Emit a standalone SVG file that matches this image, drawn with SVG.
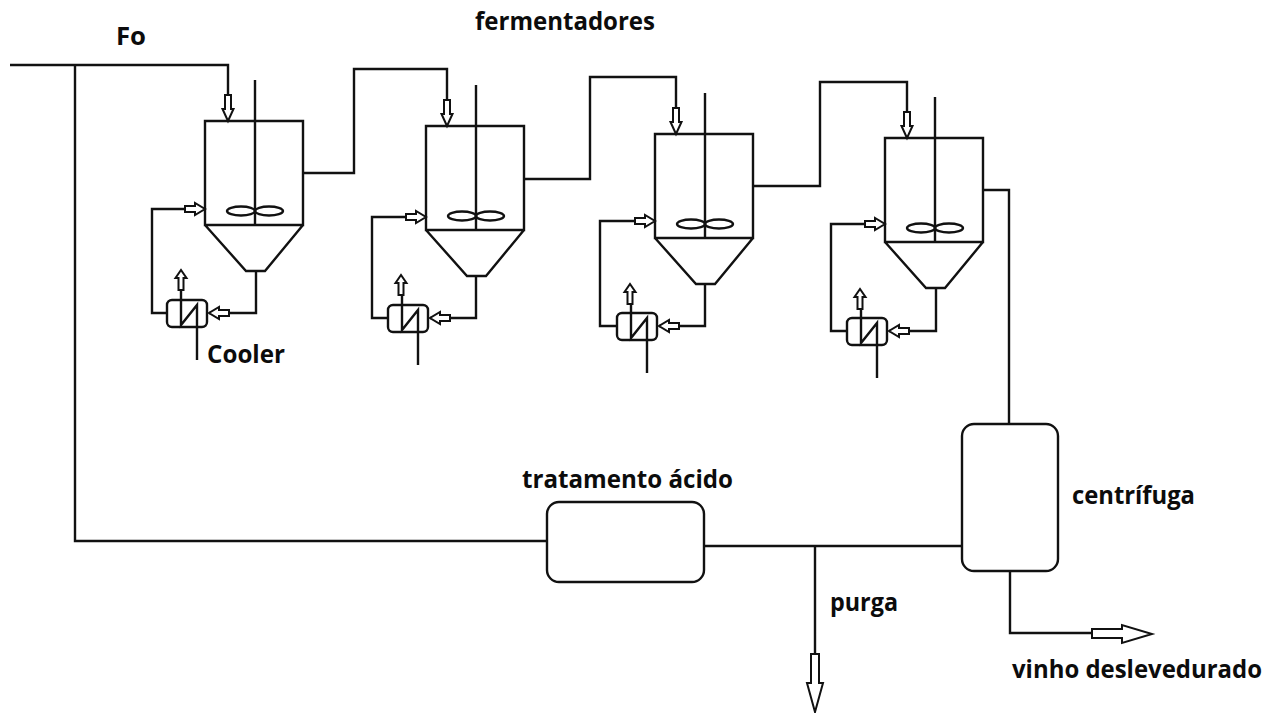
<svg xmlns="http://www.w3.org/2000/svg" width="1276" height="713" viewBox="0 0 1276 713">
<style>
.l{fill:none;stroke:#111;stroke-width:2.4;stroke-linejoin:miter}
.s{fill:#fff;stroke:#111;stroke-width:2.4}
.a{fill:#fff;stroke:#111;stroke-width:2}
.t{font-family:"Open Sans","Noto Sans",sans-serif;font-weight:700;font-size:25px;fill:#0c0c0c}
</style>
<defs>
<g id="tank">
<path class="l" d="M0 0H98V104H0ZM0 104L41 150H60L98 104M50 -41V104"/>
<ellipse class="l" cx="36" cy="90" rx="14" ry="4.500"/><ellipse class="l" cx="64" cy="90" rx="14" ry="4.500"/>
</g>
<g id="cooler">
<rect class="s" x="0" y="0" width="40" height="27" rx="5"/>
<path class="l" d="M14 -10V25L30 5V60"/>
</g>
<polygon id="ad" class="a" points="-3,-26 3,-26 3,-12 5.500,-12 0,0 -5.500,-12 -3,-12"/>
<polygon id="ar" class="a" points="-20,-3 -10,-3 -10,-6 0,0 -10,6 -10,3 -20,3"/>
<polygon id="al" class="a" points="20,-3 10,-3 10,-6 0,0 10,6 10,3 20,3"/>
<polygon id="au" class="a" points="-2.500,20 2.500,20 2.500,8 5.500,8 0,0 -5.500,8 -2.500,8"/>
</defs>
<g id="connectors">
<path class="l" d="M10 65H228V97M75 65V541H547"/>
<path class="l" d="M303 173H354V69H447V100"/>
<path class="l" d="M524 179H590V77H676V108"/>
<path class="l" d="M753 186H820V82H907V112"/>
<path class="l" d="M983 190H1009V424"/>
<path class="l" d="M704 546H962M815 546V654M1010 571V633H1095"/>
<path class="l" d="M256 271V313H209M167 313H152V209H186"/>
<path class="l" d="M476 276V318H430M388 318H372V217H406"/>
<path class="l" d="M705 285V326H659M617 326H600V221H635"/>
<path class="l" d="M936 289V331H889M847 331H831V224H865"/>
<use href="#ad" x="228" y="121"/><use href="#ad" x="447" y="126"/><use href="#ad" x="676" y="134"/><use href="#ad" x="907" y="138"/>
<use href="#ar" x="205" y="209"/><use href="#ar" x="426" y="217"/><use href="#ar" x="655" y="221"/><use href="#ar" x="885" y="224"/>
<use href="#al" x="209" y="313"/><use href="#al" x="430" y="318"/><use href="#al" x="659" y="326"/><use href="#al" x="889" y="331"/>
<use href="#au" x="181" y="270"/><use href="#au" x="401" y="275"/><use href="#au" x="630" y="284"/><use href="#au" x="860" y="289"/>
<polygon class="a" points="811,654 819,654 819,683 823,683 815,712 807,683 811,683"/>
<polygon class="a" points="1092,629 1122,629 1122,625 1152,634 1122,643 1122,638 1092,638"/>
</g>
<g id="tank1"><use href="#tank" x="205" y="121"/></g>
<g id="tank2"><use href="#tank" x="426" y="126"/></g>
<g id="tank3"><use href="#tank" x="655" y="134"/></g>
<g id="tank4"><use href="#tank" x="885" y="138"/></g>
<g id="cooler1"><use href="#cooler" x="167" y="300"/></g>
<g id="cooler2"><use href="#cooler" x="388" y="305"/></g>
<g id="cooler3"><use href="#cooler" x="617" y="313"/></g>
<g id="cooler4"><use href="#cooler" x="847" y="318"/></g>
<g id="tratamento"><rect class="s" x="547" y="502" width="157" height="80" rx="12"/></g>
<g id="centrifuga"><rect class="s" x="962" y="424" width="96" height="147" rx="12"/></g>
<g id="labels">
<text class="t" x="116" y="45" textLength="30" lengthAdjust="spacingAndGlyphs">Fo</text>
<text class="t" x="475" y="30" textLength="180" lengthAdjust="spacingAndGlyphs">fermentadores</text>
<text class="t" x="207" y="363" textLength="78" lengthAdjust="spacingAndGlyphs">Cooler</text>
<text class="t" x="522" y="488" textLength="211" lengthAdjust="spacingAndGlyphs">tratamento ácido</text>
<text class="t" x="1072" y="504" textLength="123" lengthAdjust="spacingAndGlyphs">centrífuga</text>
<text class="t" x="830" y="611" textLength="68" lengthAdjust="spacingAndGlyphs">purga</text>
<text class="t" x="1012" y="678" textLength="250" lengthAdjust="spacingAndGlyphs">vinho deslevedurado</text>
</g>
</svg>
